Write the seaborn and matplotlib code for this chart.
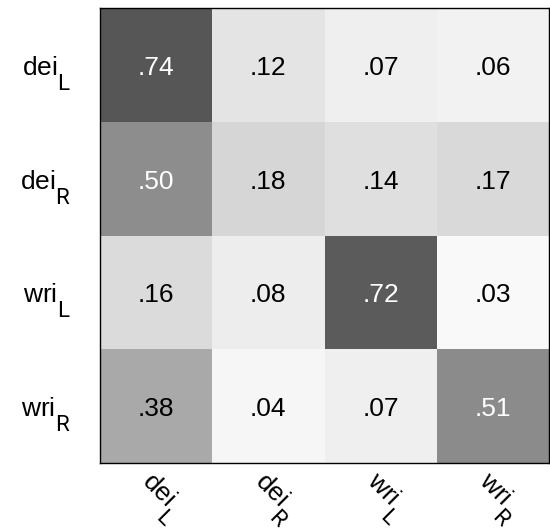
"""
Grayscale confusion matrix for dei/wri left/right classes.
"""
import numpy as np
import pandas as pd
import matplotlib
matplotlib.use("Agg")
import matplotlib.pyplot as plt
import matplotlib._mathtext as mt
from matplotlib.transforms import ScaledTranslation
import seaborn as sns

# ── data ─────────────────────────────────────────────────────────────────────
labels = ["dei$_\\mathrm{L}$", "dei$_\\mathrm{R}$",
          "wri$_\\mathrm{L}$", "wri$_\\mathrm{R}$"]
row_dei_L = [0.74, 0.12, 0.07, 0.06]
row_dei_R = [0.50, 0.18, 0.14, 0.17]
row_wri_L = [0.16, 0.08, 0.72, 0.03]
row_wri_R = [0.38, 0.04, 0.07, 0.51]

cm = pd.DataFrame([row_dei_L, row_dei_R, row_wri_L, row_wri_R],
                  index=labels, columns=labels)
annot = cm.map(lambda v: f"{v:.2f}".lstrip("0"))

# ── style: big, thin, low subscripts like the original figure ────────────────
mt.SHRINK_FACTOR = 0.85
mt.FontConstantsBase.sub1 = 1.0
plt.rcParams["font.family"] = ["Liberation Sans", "DejaVu Sans"]
plt.rcParams["mathtext.fontset"] = "custom"
plt.rcParams["mathtext.rm"] = "Roboto"

fig = plt.figure(figsize=(5.5, 5.32), dpi=100)
ax = fig.add_axes([100 / 550, 1 - 463 / 532, 449 / 550, 455 / 532])
sns.heatmap(cm, annot=annot, fmt="", cmap="gray_r", vmin=0, vmax=1.12,
            cbar=False, ax=ax, annot_kws={"fontsize": 19})

# white text on the dark cells, black elsewhere; nudge down a touch
down = ScaledTranslation(0, -3 / 100, fig.dpi_scale_trans)
for t, v in zip(ax.texts, cm.values.ravel()):
    t.set_color("white" if v >= 0.45 else "black")
    t.set_transform(t.get_transform() + down)

for s in ax.spines.values():
    s.set_visible(True)
    s.set_linewidth(1.0)
    s.set_color("black")

ax.tick_params(length=0)
ax.tick_params(axis="y", pad=21)
ax.tick_params(axis="x", pad=3)
ax.set_xticklabels(labels, rotation=-45, ha="left", rotation_mode="anchor",
                   fontsize=19)
ax.set_yticklabels(labels, rotation=0, fontsize=19)
# row labels sit a little below the row centre in the original
shift = ScaledTranslation(0, -8 / 100, fig.dpi_scale_trans)
for lab in ax.get_yticklabels():
    lab.set_transform(lab.get_transform() + shift)
ax.set_xlabel("")
ax.set_ylabel("")

fig.savefig("out.png", dpi=100)
plt.close()
